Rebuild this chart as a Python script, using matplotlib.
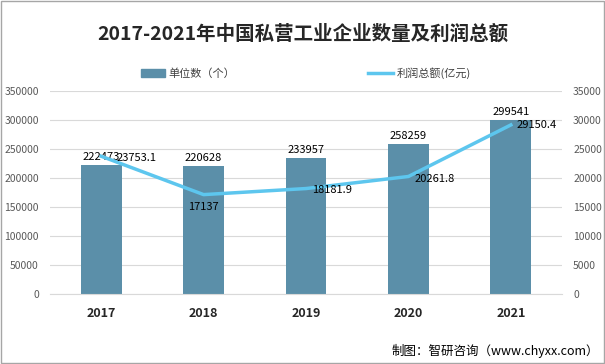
import numpy as np
import matplotlib.pyplot as plt
from matplotlib.lines import Line2D
from matplotlib.patches import Patch

plt.rcParams['font.family'] = ['Noto Sans CJK SC', 'DejaVu Sans']

years = ['2017', '2018', '2019', '2020', '2021']
units = [222473, 220628, 233957, 258259, 299541]
profit = [23753.1, 17137, 18181.9, 20261.8, 29150.4]
profit_labels = ['23753.1', '17137', '18181.9', '20261.8', '29150.4']

bar_color = '#5b8fa9'
line_color = '#5dc6ee'
tick_color = '#595959'

fig = plt.figure(figsize=(6.05, 3.64), dpi=100)
ax = fig.add_axes([0.0826, 0.1923, 0.8464, 0.5577])
ax2 = ax.twinx()

x = np.arange(len(years))
ax.bar(x, units, width=0.4, color=bar_color, zorder=2)
ax2.plot(x, profit, color=line_color, lw=2.5, zorder=3)

ax.set_ylim(0, 350000)
ax2.set_ylim(0, 35000)
ax.set_xlim(-0.5, 4.5)
ax.set_yticks(np.arange(0, 350001, 50000))
ax2.set_yticks(np.arange(0, 35001, 5000))
ax.grid(axis='y', color='#d9d9d9', lw=0.8, zorder=0)
ax.set_axisbelow(True)

for a in (ax, ax2):
    for s in a.spines.values():
        s.set_visible(False)
    a.tick_params(length=0, labelsize=7.5, labelcolor=tick_color)
ax.spines['bottom'].set_visible(True)
ax.spines['bottom'].set_color('#d9d9d9')
ax.tick_params(axis='y', pad=8)
ax2.tick_params(axis='y', pad=8)

ax.set_xticks(x)
ax.set_xticklabels(years, fontsize=9, fontweight='bold', color='#262626')
ax.tick_params(axis='x', pad=9)

for i, v in enumerate(units):
    ax.text(i, v + 5000, str(v), ha='center', va='bottom', fontsize=8, color='#000000')

offsets = [(0.15, -300, 'left', 'center'), (0.0, -1200, 'center', 'top'),
           (0.06, -200, 'left', 'center'), (0.06, -500, 'left', 'center'),
           (0.06, 0, 'left', 'center')]
for i, (dx, dy, ha, va) in enumerate(offsets):
    ax2.text(i + dx, profit[i] + dy, profit_labels[i], ha=ha, va=va, fontsize=8, color='#000000')

fig.text(0.5, 0.905, '2017-2021年中国私营工业企业数量及利润总额', ha='center', va='center',
         fontsize=14, fontweight='bold', color='#262626')

handles = [Patch(color=bar_color), Line2D([0], [0], color=line_color, lw=2.5)]
fig.legend(handles, ['单位数（个）', '利润总额(亿元)'], loc='center', bbox_to_anchor=(0.505, 0.80),
           ncol=2, frameon=False, fontsize=8, columnspacing=12, handlelength=2.2,
           handletextpad=0.3, labelcolor='#404040')

fig.text(0.99, 0.035, '制图：智研咨询（www.chyxx.com）', ha='right', va='center',
         fontsize=9, color='#000000')

fig.patches.append(plt.Rectangle((0.002, 0.003), 0.996, 0.994, transform=fig.transFigure,
                                 fill=False, edgecolor='#a6a6a6', lw=1))

fig.savefig('out.png', dpi=100)
